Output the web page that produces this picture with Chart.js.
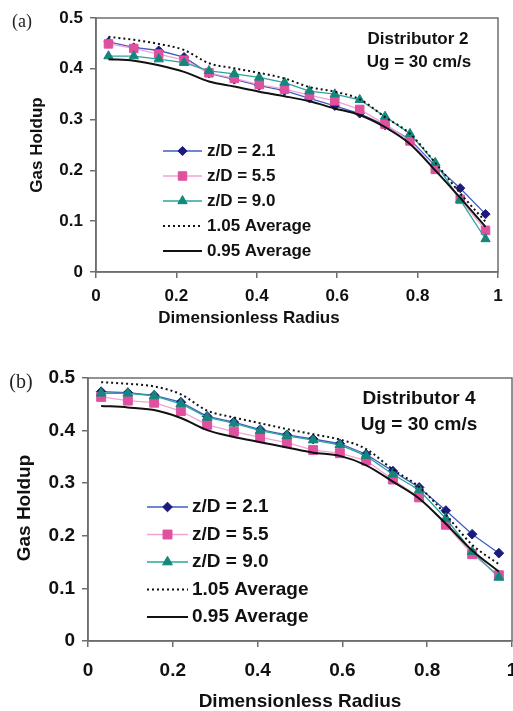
<!DOCTYPE html>
<html>
<head>
<meta charset="utf-8">
<script src="https://cdn.jsdelivr.net/npm/chart.js"></script>
<style>
    html, body { margin: 0; padding: 0; background: #fff; overflow: hidden; width: 513px; height: 711px; }
    canvas { position: absolute; left: 0; }
    #chartA { top: 0; }
    #chartB { top: 340px; }
</style>
</head>
<body>
<canvas id="chartA" width="513" height="340"></canvas>
<canvas id="chartB" width="530" height="371"></canvas>
<script>
// Radial gas holdup profiles - two distributors, Ug = 30 cm/s

// Dimensionless radius of the measurement points (same for both panels)
const radius = [0.031, 0.094, 0.156, 0.219, 0.281, 0.344, 0.406, 0.469, 0.531, 0.594, 0.656, 0.719, 0.781, 0.844, 0.906, 0.969];

// (a) Distributor 2
const distA_z21 = [0.453, 0.442, 0.436, 0.423, 0.391, 0.379, 0.367, 0.357, 0.342, 0.327, 0.312, 0.289, 0.261, 0.209, 0.165, 0.114];
const distA_z55 = [0.449, 0.440, 0.429, 0.417, 0.392, 0.381, 0.369, 0.360, 0.348, 0.337, 0.320, 0.291, 0.258, 0.202, 0.143, 0.082];
const distA_z90 = [0.425, 0.425, 0.419, 0.412, 0.396, 0.390, 0.383, 0.373, 0.356, 0.350, 0.339, 0.306, 0.272, 0.215, 0.142, 0.065];
const distA_hi  = [0.463, 0.457, 0.449, 0.437, 0.411, 0.401, 0.392, 0.381, 0.364, 0.355, 0.340, 0.305, 0.272, 0.215, 0.155, 0.099];
const distA_lo  = [0.419, 0.416, 0.407, 0.394, 0.375, 0.365, 0.355, 0.346, 0.336, 0.322, 0.309, 0.285, 0.252, 0.200, 0.146, 0.089];

// (b) Distributor 4
const distB_z21 = [0.474, 0.472, 0.467, 0.454, 0.427, 0.416, 0.402, 0.392, 0.384, 0.375, 0.355, 0.323, 0.292, 0.248, 0.203, 0.167];
const distB_z55 = [0.464, 0.457, 0.453, 0.437, 0.411, 0.398, 0.387, 0.377, 0.363, 0.357, 0.343, 0.307, 0.273, 0.221, 0.165, 0.125];
const distB_z90 = [0.471, 0.471, 0.466, 0.451, 0.425, 0.414, 0.400, 0.390, 0.382, 0.373, 0.352, 0.317, 0.287, 0.233, 0.170, 0.121];
const distB_hi  = [0.492, 0.489, 0.484, 0.469, 0.438, 0.425, 0.414, 0.403, 0.393, 0.383, 0.365, 0.326, 0.293, 0.240, 0.183, 0.146];
const distB_lo  = [0.447, 0.444, 0.439, 0.424, 0.401, 0.388, 0.378, 0.368, 0.358, 0.352, 0.334, 0.303, 0.271, 0.223, 0.172, 0.132];

// Legend entries and tick labels
const seriesLabels = ['z/D = 2.1', 'z/D = 5.5', 'z/D = 9.0', '1.05 Average', '0.95 Average'];
const xTickLabels = ['0', '0.2', '0.4', '0.6', '0.8', '1'];
const yTickLabels = ['0', '0.1', '0.2', '0.3', '0.4', '0.5'];

const SANS = '"Liberation Sans", Arial, sans-serif';
const SERIF = '"Liberation Serif", "Times New Roman", serif';
const AXIS_GREY = '#6e6e6e';

function pairs(ys) {
    return ys.map((y, i) => ({ x: radius[i], y: y }));
}

// later series are drawn on top (higher order = drawn earlier)
function buildDatasets(z21, z55, z90, hi, lo, r) {
    return [
        { label: seriesLabels[0], data: pairs(z21), order: 5, borderColor: '#3f5fc0', borderWidth: 1.3,
          pointStyle: 'rectRot', pointRadius: 4.6 * r, pointBackgroundColor: '#1b1b7e', pointBorderColor: '#1b1b7e', pointBorderWidth: 1 },
        { label: seriesLabels[1], data: pairs(z55), order: 4, borderColor: '#f3a3d4', borderWidth: 1.3,
          pointStyle: 'rect', pointRadius: 6 * r, pointBackgroundColor: '#e0509f', pointBorderColor: '#e0509f', pointBorderWidth: 1 },
        { label: seriesLabels[2], data: pairs(z90), order: 3, borderColor: '#2aa49a', borderWidth: 1.3,
          pointStyle: 'triangle', pointRadius: 5.4 * r, pointBackgroundColor: '#14877c', pointBorderColor: '#14877c', pointBorderWidth: 1 },
        { label: seriesLabels[3], data: pairs(hi), order: 2, borderColor: '#111', borderWidth: 2, borderDash: [2, 3],
          pointRadius: 0, cubicInterpolationMode: 'monotone' },
        { label: seriesLabels[4], data: pairs(lo), order: 1, borderColor: '#111', borderWidth: 2,
          pointRadius: 0, cubicInterpolationMode: 'monotone' }
    ];
}

// Frame, in-plot legend and free text (panel letter, notes, axis titles)
const annotPlugin = {
    id: 'annot',
    afterDraw(chart, args, opts) {
        const ctx = chart.ctx;
        const area = chart.chartArea;
        ctx.save();

        // box round the plot area
        ctx.strokeStyle = AXIS_GREY;
        ctx.lineWidth = 1.5;
        ctx.strokeRect(area.left, area.top, area.right - area.left, area.bottom - area.top);

        // legend
        const lg = opts.legend;
        ctx.font = 'bold ' + opts.size + 'px ' + SANS;
        ctx.textBaseline = 'middle';
        ctx.textAlign = 'left';
        chart.data.datasets.forEach((ds, i) => {
            const y = lg.y + i * lg.dy;
            ctx.save();
            ctx.strokeStyle = ds.borderColor;
            ctx.lineWidth = ds.borderWidth;
            ctx.setLineDash(ds.borderDash || []);
            ctx.beginPath();
            ctx.moveTo(lg.x1, y);
            ctx.lineTo(lg.x2, y);
            ctx.stroke();
            ctx.restore();
            if (ds.pointRadius > 0) {
                ctx.save();
                ctx.fillStyle = ds.pointBackgroundColor;
                ctx.strokeStyle = ds.pointBorderColor;
                ctx.lineWidth = 1;
                Chart.helpers.drawPoint(ctx, { pointStyle: ds.pointStyle, radius: ds.pointRadius, rotation: 0, borderWidth: 1 },
                    (lg.x1 + lg.x2) / 2, y);
                ctx.restore();
            }
            ctx.fillStyle = '#111';
            ctx.fillText(ds.label, lg.tx, y);
        });

        // notes in the upper right
        ctx.textAlign = 'center';
        opts.notes.forEach(n => ctx.fillText(n.text, n.x, n.y));

        // axis titles
        ctx.fillText('Dimensionless Radius', opts.xTitle.x, opts.xTitle.y);
        ctx.save();
        ctx.translate(opts.yTitle.x, opts.yTitle.y);
        ctx.rotate(-Math.PI / 2);
        ctx.fillText('Gas Holdup', 0, 0);
        ctx.restore();

        // panel letter
        ctx.font = opts.letterSize + 'px ' + SERIF;
        ctx.fillStyle = '#222';
        ctx.fillText(opts.letter, opts.letterPos.x, opts.letterPos.y);

        ctx.restore();
    }
};

function makeChart(canvasId, datasets, geo) {
    const tickFont = { family: SANS, size: geo.size, weight: 'bold' };
    return new Chart(document.getElementById(canvasId), {
        type: 'line',
        data: { datasets: datasets },
        plugins: [annotPlugin],
        options: {
            responsive: false,
            animation: false,
            devicePixelRatio: 1,
            layout: { padding: { left: 0, right: geo.padRight, top: geo.top, bottom: 0 } },
            plugins: {
                legend: { display: false },
                tooltip: { enabled: false },
                annot: geo.annot
            },
            scales: {
                x: {
                    type: 'linear', min: 0, max: 1,
                    ticks: { stepSize: 0.2, padding: geo.xPad, color: '#111', font: tickFont,
                             callback: v => xTickLabels[Math.round(v / 0.2)] },
                    grid: { drawOnChartArea: false, drawTicks: true, tickLength: 6, color: AXIS_GREY, lineWidth: 1.5 },
                    border: { display: true, color: AXIS_GREY, width: 1.5 },
                    afterFit: s => { s.height = geo.xHeight; }
                },
                y: {
                    type: 'linear', min: 0, max: 0.5,
                    ticks: { stepSize: 0.1, padding: 7, color: '#111', font: tickFont,
                             callback: v => yTickLabels[Math.round(v / 0.1)] },
                    grid: { drawOnChartArea: false, drawTicks: true, tickLength: 6, color: AXIS_GREY, lineWidth: 1.5 },
                    border: { display: true, color: AXIS_GREY, width: 1.5 },
                    afterFit: s => { s.width = geo.left; }
                }
            }
        }
    });
}

// (a) plot area: x 96..498, y 18..272
makeChart('chartA', buildDatasets(distA_z21, distA_z55, distA_z90, distA_hi, distA_lo, 1), {
    size: 17, left: 96, padRight: 513 - 498, top: 18, xHeight: 340 - 272, xPad: 8,
    annot: {
        size: 17,
        legend: { x1: 163, x2: 202, tx: 207, y: 151, dy: 25 },
        notes: [{ text: 'Distributor 2', x: 418, y: 39 }, { text: 'Ug = 30 cm/s', x: 419, y: 62 }],
        xTitle: { x: 249, y: 318 },
        yTitle: { x: 37, y: 145 },
        letter: '(a)', letterSize: 18, letterPos: { x: 22, y: 22 }
    }
});

// (b) plot area: x 88..512, y 378..641 (canvas starts at y = 340)
makeChart('chartB', buildDatasets(distB_z21, distB_z55, distB_z90, distB_hi, distB_lo, 1.05), {
    size: 19, left: 88, padRight: 530 - 512, top: 38, xHeight: 371 - 301, xPad: 12,
    annot: {
        size: 19,
        legend: { x1: 147, x2: 188, tx: 192, y: 167, dy: 27.5 },
        notes: [{ text: 'Distributor 4', x: 419, y: 59 }, { text: 'Ug = 30 cm/s', x: 419, y: 85 }],
        xTitle: { x: 300, y: 362 },
        yTitle: { x: 25, y: 168 },
        letter: '(b)', letterSize: 20, letterPos: { x: 21, y: 43 }
    }
});
</script>
</body>
</html>
